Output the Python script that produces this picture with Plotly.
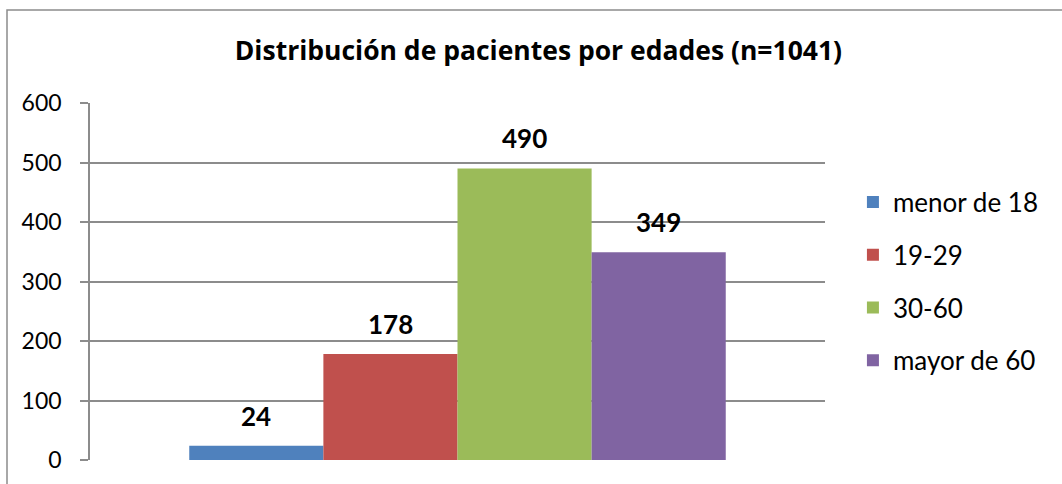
import plotly.graph_objects as go

categories = ["menor de 18", "19-29", "30-60", "mayor de 60"]
values = [24, 178, 490, 349]
colors = ["#4F81BD", "#C0504D", "#9BBB59", "#8064A2"]
title_text = "Distribución de pacientes por edades (n=1041)"
y_ticks = [0, 100, 200, 300, 400, 500, 600]

FONT = "Lato"
GRID = "#8C8C8C"

fig = go.Figure()
for i, (cat, val, col) in enumerate(zip(categories, values, colors)):
    fig.add_trace(go.Bar(
        x=[cat], y=[val], name=cat, marker=dict(color=col, line=dict(width=0)),
        width=1.0, offsetgroup="g", legendgroup=cat,
    ))
    fig.add_annotation(x=cat, y=val, text=f"<b>{val}</b>", showarrow=False,
                       yanchor="bottom", yshift=12,
                       font=dict(family=FONT, size=26, color="black"))

fig.update_layout(
    width=1062, height=484,
    margin=dict(l=90, r=237, t=103, b=24),
    paper_bgcolor="white", plot_bgcolor="white",
    barmode="overlay",
    title=dict(text=f"<b>{title_text}</b>", x=0.507, xanchor="center",
               y=1 - 51 / 484, yanchor="middle",
               font=dict(family="Open Sans", size=26.5, color="black")),
    legend=dict(x=1.038, xanchor="left", y=0.5, yanchor="middle",
                font=dict(family=FONT, size=26, color="black"),
                traceorder="grouped", tracegroupgap=16, bgcolor="rgba(0,0,0,0)"),
    showlegend=True,
    xaxis=dict(type="category", categoryorder="array", categoryarray=categories,
               range=[-1.24, 4.24], showticklabels=False, showgrid=False,
               zeroline=False, showline=False, ticks=""),
    yaxis=dict(range=[0, 600], tickvals=y_ticks, showgrid=True, gridcolor=GRID,
               gridwidth=1.5, showline=True, linecolor=GRID, linewidth=1.5,
               ticks="outside", ticklen=8, tickcolor=GRID, tickwidth=1.5,
               ticklabelstandoff=14, zeroline=False,
               tickfont=dict(family=FONT, size=23, color="black")),
)

# outer chart frame
fig.add_shape(type="rect", xref="paper", yref="paper",
              x0=(7 - 90) / 735, x1=(1075 - 90) / 735,
              y0=(460 - 500) / 357, y1=(460 - 10) / 357,
              line=dict(color="#8C8C8C", width=1.5), fillcolor="rgba(0,0,0,0)",
              layer="below")

fig.write_html("out.html", config={"displayModeBar": False},
               post_script="document.body.style.margin='0';")
